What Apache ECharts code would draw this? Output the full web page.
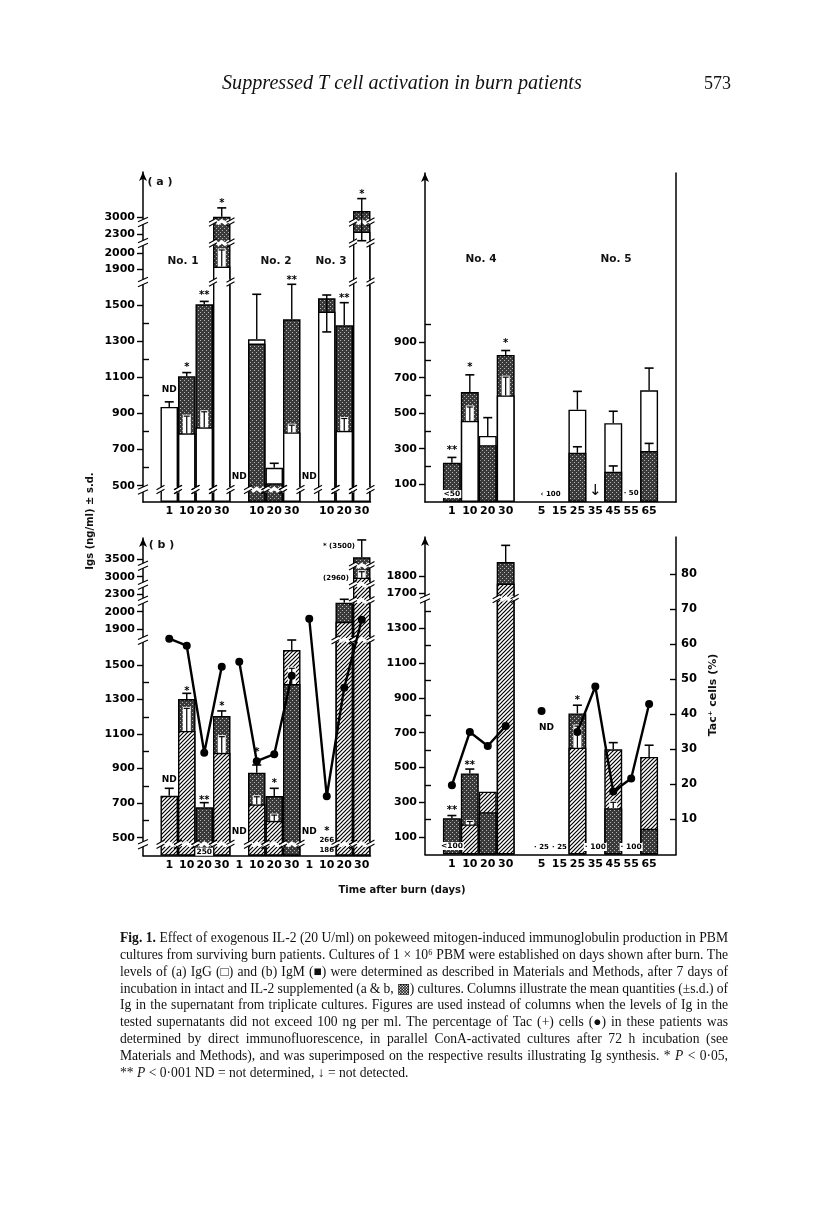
<!DOCTYPE html>
<html>
<head>
<meta charset="utf-8">
<script src="https://cdn.jsdelivr.net/npm/echarts@6.0.0/dist/echarts.min.js"></script>
<style>
html,body{margin:0;padding:0;background:#fff;}
#chart{width:816px;height:1216px;}
</style>
</head>
<body>
<div id="chart"></div>
<script>
// ======================= DATA =======================
// Slot labels (days after burn) for the four panels
const slotLabelsA13 = ['', '1', '10', '20', '30', '', '10', '20', '30', '', '10', '20', '30'];
const slotLabelsB13 = ['', '1', '10', '20', '30', '1', '10', '20', '30', '1', '10', '20', '30'];
const slotLabels45  = ['', '1', '10', '20', '30', '', '5', '15', '25', '35', '45', '55', '65', ''];

// (a) IgG ng/ml, patients No.1-3 (slots: No.1 d1,10,20,30 | No.2 d1,10,20,30 | No.3 d1,10,20,30)
const igG13Intact = [936, 790, 823, 1915, null, 1310, 599, 795, null, 1463, 804, 2395];
const igG13IL2    = [null, 1106, 1508, 3010, null, 1287, 513, 1421, null, 1574, 1388, 3247];
const igG13ErrHi  = [964, 1126, 1540, 3380, null, 1619, 624, 1730, null, 1611, 1526, 3767];
const igG13ErrLo  = [null, null, null, null, null, null, null, null, null, 1351, null, 2194];
const igG13Inner  = [null, 885, 909, 2048, null, null, null, 835, null, null, 872, null];

// (a) IgG ng/ml, patients No.4-5 (slots: No.4 d1,10,20,30 | gap | No.5 d5,15,25,35,45,55,65)
const igG45Intact = [null, 457, 372, 600, null, null, null, 520, null, 444, null, 629];
const igG45IL2    = [221, 619, 320, 828, null, null, null, 277, null, 171, null, 287];
const igG45ErrHi  = [251, 716, 475, 853, null, null, null, 623, null, 511, null, 754];
const igG45Inner  = [null, 535, null, 703, null, null, null, 311, null, 203, null, 330];

// (b) IgM ng/ml, patients No.1-3
const igM13Intact = [743, 1118, null, 992, null, 693, 598, 1668, null, null, 1943, 2960];
const igM13IL2    = [null, 1303, 676, 1205, null, 876, 741, 1390, null, null, 2155, 3550];
const igM13ErrHi  = [786, 1336, 703, 1234, null, 921, 786, 1780, null, null, 2214, 4040];
const igM13Inner  = [null, 1249, null, 1085, null, 737, 631, 1481, null, null, null, 3140];
const tac13       = [62, 60, 29.4, 54, 55.4, 27, 29, 51.4, 67.7, 17, 48, 67.4];
const tac13Groups = [[0, 3], [4, 7], [8, 11]];

// (b) IgM ng/ml, patients No.4-5
const igM45Intact = [null, 173, 361, 1756, null, null, null, 614, null, 605, null, 561];
const igM45IL2    = [209, 466, 243, 1885, null, null, null, 811, null, 266, null, 148];
const igM45ErrHi  = [224, 491, null, 1985, null, null, null, 858, null, 643, null, 628];
const igM45Inner  = [null, 190, null, null, null, null, null, 738, null, 300, null, null];
const tac45       = [19.8, 35, 31, 36.7, null, 41, null, 35, 48, 18, 21.7, 43];
const tac45Groups = [[0, 3], [5, 5], [7, 11]];

// Tick labels
const yTicksA13 = [500, 700, 900, 1100, 1300, 1500, 1900, 2000, 2300, 3000];
const yMinorA13 = [600, 800, 1000, 1200, 1400];
const yTicksA45 = [100, 300, 500, 700, 900];
const yMinorA45 = [200, 400, 600, 800, 1000];
const yTicksB13 = [500, 700, 900, 1100, 1300, 1500, 1900, 2000, 2300, 3000, 3500];
const yMinorB13 = [600, 800, 1000, 1200, 1400];
const yTicksB45 = [100, 300, 500, 700, 900, 1100, 1300, 1700, 1800];
const yMinorB45 = [200, 400, 600, 800, 1000, 1200, 1400];
const tacTicks  = [10, 20, 30, 40, 50, 60, 70, 80];

// Figure annotations: [slot, anchor value (ng/ml), text]
const notesA13 = [[1, 964, 'ND'], [2, 1126, '*'], [3, 1540, '**'], [4, 3380, '*'], [5, 0, 'ND'], [8, 1730, '**'], [9, 0, 'ND'], [11, 1526, '**'], [12, 3767, '*']];
const notesA45 = [[1, 251, '**'], [1, 0, '<50'], [2, 716, '*'], [4, 853, '*'], [6, 0, '‹ 100'], [9, 0, '↓'], [11, 0, '· 50']];
const notesB13 = [[1, 786, 'ND'], [2, 1336, '*'], [3, 703, '**'], [3, 0, '250'], [4, 1234, '*'], [5, 0, 'ND'], [6, 921, '*'], [7, 786, '*'], [9, 0, 'ND'], [10, 0, '*'], [10, 0, '266'], [10, 0, '186'], [12, 4040, '* (3500)'], [12, 2960, '(2960)']];
const notesB45 = [[1, 224, '**'], [1, 0, '<100'], [2, 491, '**'], [6, 0, '· 25'], [7, 0, '· 25'], [7, 730, 'ND'], [8, 858, '*'], [9, 0, '· 100'], [11, 0, '· 100']];

const captionLines = [
  'Fig. 1. Effect of exogenous IL-2 (20 U/ml) on pokeweed mitogen-induced immunoglobulin production in PBM',
  'cultures from surviving burn patients. Cultures of 1 × 10⁶ PBM were established on days shown after burn. The',
  'levels of (a) IgG (□) and (b) IgM (■) were determined as described in Materials and Methods, after 7 days of',
  'incubation in intact and IL-2 supplemented (a & b, ▩) cultures. Columns illustrate the mean quantities (±s.d.) of',
  'Ig in the supernatant from triplicate cultures. Figures are used instead of columns when the levels of Ig in the',
  'tested supernatants did not exceed 100 ng per ml. The percentage of Tac (+) cells (●) in these patients was',
  'determined by direct immunofluorescence, in parallel ConA-activated cultures after 72 h incubation (see',
  'Materials and Methods), and was superimposed on the respective results illustrating Ig synthesis. * P < 0·05,',
  '** P < 0·001 ND = not determined, ↓ = not detected.'
];

// ======================= LAYOUT / SCALES =======================
// Broken-axis scales: [real value, px above baseline]
const scaleA13 = [[0, 0], [500, 16.3], [1500, 197], [1900, 233], [2000, 249], [2300, 268], [3000, 285], [4000, 309]];
const scaleA45 = [[0, 0], [1000, 177.6], [2000, 355.2]];
const scaleB13 = [[0, 0], [500, 18], [1500, 190.7], [1900, 226.4], [2000, 244], [2300, 261.4], [3000, 279], [3500, 296.7], [4500, 332]];
const scaleB45 = [[0, 0], [1450, 252.3], [1700, 261.6], [2200, 345]];
const breaksA13 = [12.5, 220, 259, 280];
const breaksB13 = [11.5, 216, 255, 271, 290];
const breaksB45 = [256];
const noteOffA13 = [[0, -12], [0, -5], [0, -6], [0, -4], [0, -25], [0, -4], [0, -25], [0, -4], [0, -4]];
const noteOffA45 = [[0, -7], [0, -8], [0, -7], [0, -7], [9, -8], [0, -11], [0, -9]];
const noteOffB13 = [[0, -8.5], [0, -2], [0, -2.5], [0, -4], [0, -5], [0, -24], [0, -13], [0, -4.6], [0, -24], [0, -24.4], [0, -15.5], [0, -5.5], [-22.75, 6], [-25.75, 0]];
const noteOffB45 = [[0, -5], [0, -8.5], [0, -3.6], [0, -7.5], [0, -7.5], [-13, 0], [0, -5], [0, -7.5], [0, -7.5]];

const SANS = '"DejaVu Sans", sans-serif';
const SERIF = '"Liberation Serif", "Times New Roman", serif';

function disp(map, v) {
  if (v == null) return null;
  for (let k = 1; k < map.length; k++) {
    const r0 = map[k - 1][0], d0 = map[k - 1][1], r1 = map[k][0], d1 = map[k][1];
    if (v <= r1 || k === map.length - 1) return d0 + (v - r0) * (d1 - d0) / (r1 - r0);
  }
}

function makeHatch() {
  const c = document.createElement('canvas'); c.width = 4; c.height = 4;
  const g = c.getContext('2d');
  g.fillStyle = '#fff'; g.fillRect(0, 0, 4, 4);
  g.strokeStyle = '#000'; g.lineWidth = 1.2; g.beginPath();
  g.moveTo(-1, 5); g.lineTo(5, -1);
  g.moveTo(-1, 1); g.lineTo(1, -1);
  g.moveTo(3, 5); g.lineTo(5, 3);
  g.stroke();
  return c;
}
function makeStipple() {
  const c = document.createElement('canvas'); c.width = 4; c.height = 4;
  const g = c.getContext('2d');
  g.fillStyle = '#3a3a3a'; g.fillRect(0, 0, 4, 4);
  g.fillStyle = '#b4b4b4'; g.fillRect(0, 0, 1, 1); g.fillRect(2, 2, 1, 1);
  return c;
}
const HATCH = {image: makeHatch(), repeat: 'repeat'};
const STIPPLE = {image: makeStipple(), repeat: 'repeat'};

function barStyle(kind, panelType) {
  let color = '#fff';
  if (kind === 'il2') color = STIPPLE;
  else if (panelType === 'B') color = HATCH;
  return {color: color, borderColor: '#000', borderWidth: 1.4};
}

const panels = [
  {grid: [143, 172, 227.5, 330], labels: slotLabelsA13, scale: scaleA13, ticks: yTicksA13, minor: yMinorA13, breaks: breaksA13, type: 'A',
   intact: igG13Intact, il2: igG13IL2, errHi: igG13ErrHi, errLo: igG13ErrLo, inner: igG13Inner, notes: notesA13, noteOff: noteOffA13, right: null},
  {grid: [425, 173, 251, 329], labels: slotLabels45, scale: scaleA45, ticks: yTicksA45, minor: yMinorA45, breaks: [], type: 'A',
   intact: igG45Intact, il2: igG45IL2, errHi: igG45ErrHi, errLo: null, inner: igG45Inner, notes: notesA45, noteOff: noteOffA45, right: 'border'},
  {grid: [143, 538, 227.5, 317.7], labels: slotLabelsB13, scale: scaleB13, ticks: yTicksB13, minor: yMinorB13, breaks: breaksB13, type: 'B',
   intact: igM13Intact, il2: igM13IL2, errHi: igM13ErrHi, errLo: null, inner: igM13Inner, notes: notesB13, noteOff: noteOffB13, right: 'hidden', tac: tac13, tacGroups: tac13Groups},
  {grid: [425, 537, 251, 317.5], labels: slotLabels45, scale: scaleB45, ticks: yTicksB45, minor: yMinorB45, breaks: breaksB45, type: 'B',
   intact: igM45Intact, il2: igM45IL2, errHi: igM45ErrHi, errLo: null, inner: igM45Inner, notes: notesB45, noteOff: noteOffB45, right: 'tac', tac: tac45, tacGroups: tac45Groups}
];

const option = {
  animation: false,
  backgroundColor: '#fff',
  grid: [], xAxis: [], yAxis: [], series: [], graphic: []
};

const axisFont = {color: '#000', fontFamily: SANS, fontWeight: 'bold', fontSize: 11};

panels.forEach(function (p, pi) {
  option.grid.push({left: p.grid[0], top: p.grid[1], width: p.grid[2], height: p.grid[3], containLabel: false, outerBoundsMode: 'none'});
  option.xAxis.push({
    type: 'category', gridIndex: pi, data: p.labels, boundaryGap: true,
    axisLine: {onZero: false, lineStyle: {color: '#000', width: 1.5}},
    axisTick: {show: false}, splitLine: {show: false},
    axisLabel: Object.assign({interval: 0, margin: 4}, axisFont)
  });
  const tickD = p.ticks.map(function (v) { return disp(p.scale, v); });
  p.yMain = option.yAxis.length;
  option.yAxis.push({
    type: 'value', gridIndex: pi, position: 'left', min: 0, max: p.grid[3], splitLine: {show: false},
    axisLine: {show: true, lineStyle: {color: '#000', width: 1.5}, symbol: ['none', 'arrow'], symbolSize: [6, 9]},
    axisTick: {show: true, inside: false, length: 6, customValues: tickD, lineStyle: {color: '#000', width: 1.4}},
    axisLabel: Object.assign({show: true, customValues: tickD, margin: 8, formatter: function (v) {
      for (let k = 0; k < tickD.length; k++) if (Math.abs(tickD[k] - v) < 0.05) return String(p.ticks[k]);
      return '';
    }}, axisFont)
  });
  option.yAxis.push({
    type: 'value', gridIndex: pi, position: 'left', min: 0, max: p.grid[3], splitLine: {show: false},
    axisLine: {show: false}, axisLabel: {show: false},
    axisTick: {show: true, inside: true, length: 6, customValues: p.minor.map(function (v) { return disp(p.scale, v); }), lineStyle: {color: '#000', width: 1.4}}
  });
  if (p.right === 'border') {
    option.yAxis.push({type: 'value', gridIndex: pi, position: 'right', min: 0, max: 1, splitLine: {show: false},
      axisLine: {show: true, lineStyle: {color: '#000', width: 1.5}}, axisTick: {show: false}, axisLabel: {show: false}});
  } else if (p.right === 'hidden' || p.right === 'tac') {
    p.yTac = option.yAxis.length;
    const show = p.right === 'tac';
    option.yAxis.push({type: 'value', gridIndex: pi, position: 'right', min: 0, max: p.grid[3] / 3.5, show: show, splitLine: {show: false},
      axisLine: {show: show, lineStyle: {color: '#000', width: 1.5}},
      axisTick: {show: show, inside: true, length: 6, customValues: tacTicks, lineStyle: {color: '#000', width: 1.4}},
      axisLabel: Object.assign({show: show, customValues: tacTicks, margin: 5}, axisFont, {fontSize: 11.5})});
  }

  // ---- bars: taller column behind, shorter one in front ----
  const nS = p.labels.length;
  const sets = {intactBack: [], il2Back: [], intactFront: [], il2Front: []};
  Object.keys(sets).forEach(function (k) { for (let i = 0; i < nS; i++) sets[k].push('-'); });
  for (let i = 0; i < 12; i++) {
    const a = p.intact[i], b = p.il2[i];
    if (a != null && b != null) {
      if (a >= b) { sets.intactBack[i + 1] = disp(p.scale, a); sets.il2Front[i + 1] = disp(p.scale, b); }
      else { sets.il2Back[i + 1] = disp(p.scale, b); sets.intactFront[i + 1] = disp(p.scale, a); }
    } else if (a != null) sets.intactBack[i + 1] = disp(p.scale, a);
    else if (b != null) sets.il2Back[i + 1] = disp(p.scale, b);
  }
  ['intactBack', 'il2Back', 'intactFront', 'il2Front'].forEach(function (key) {
    option.series.push({
      type: 'bar', name: key, xAxisIndex: pi, yAxisIndex: p.yMain, data: sets[key],
      barGap: '-100%', barCategoryGap: '0%', z: 2, silent: true,
      itemStyle: barStyle(key.indexOf('intact') === 0 ? 'intact' : 'il2', p.type)
    });
  });

  // ---- axis breaks (zigzags) ----
  const brk = [];
  p.breaks.forEach(function (d) {
    brk.push({s: 0, d: d, axis: true});
    for (let i = 0; i < 12; i++) {
      const vals = [p.intact[i], p.il2[i]].filter(function (v) { return v != null; });
      if (!vals.length) continue;
      if (disp(p.scale, Math.max.apply(null, vals)) > d + 3) brk.push({s: i + 1, d: d, axis: false});
    }
  });
  if (brk.length) {
    option.series.push({
      type: 'custom', xAxisIndex: pi, yAxisIndex: p.yMain, z: 3, silent: true, clip: false,
      data: brk.map(function (b) { return [b.s, b.d]; }), encode: {x: 0, y: 1},
      renderItem: function (params, api) {
        const it = brk[params.dataIndex];
        const c = api.coord([it.s, it.d]);
        const cy = c[1];
        const ls = {stroke: '#000', lineWidth: 1.1};
        if (it.axis) {
          const x = params.coordSys.x;
          return {type: 'group', children: [
            {type: 'rect', shape: {x: x - 2.5, y: cy - 2.5, width: 5, height: 5}, style: {fill: '#fff'}},
            {type: 'line', shape: {x1: x - 5, y1: cy - 0.3, x2: x + 5, y2: cy - 4.7}, style: ls},
            {type: 'line', shape: {x1: x - 5, y1: cy + 4.7, x2: x + 5, y2: cy + 0.3}, style: ls}
          ]};
        }
        const hw = api.size([1, 0])[0] / 2;
        const x0 = c[0] - hw, x1 = c[0] + hw;
        const n = Math.max(2, Math.round((x1 - x0) / 3));
        const top = [], bot = [];
        for (let k = 0; k <= n; k++) {
          const x = x0 - 1 + (x1 - x0 + 2) * k / n;
          const w = (k % 2 ? -1.3 : 1.3);
          top.push([x, cy - 2 + w]);
          bot.push([x, cy + 2 + w]);
        }
        const pts = top.concat(bot.reverse());
        const ch = [{type: 'polygon', shape: {points: pts}, style: {fill: '#fff'}}];
        [x0, x1].forEach(function (xe) {
          ch.push({type: 'line', shape: {x1: xe - 4, y1: cy + 0.2, x2: xe + 4, y2: cy - 4.2}, style: ls});
          ch.push({type: 'line', shape: {x1: xe - 4, y1: cy + 4.2, x2: xe + 4, y2: cy - 0.2}, style: ls});
        });
        return {type: 'group', children: ch};
      }
    });
  }

  // ---- error bars ----
  const errs = [];
  for (let i = 0; i < 12; i++) {
    const a = p.intact[i], b = p.il2[i];
    const vals = [a, b].filter(function (v) { return v != null; });
    if (!vals.length) continue;
    const top = Math.max.apply(null, vals), low = Math.min.apply(null, vals);
    const lo = p.errLo && p.errLo[i] != null ? p.errLo[i] : null;
    if (p.errHi[i] != null) errs.push({s: i + 1, lo: lo != null ? lo : top, hi: p.errHi[i], capLo: lo != null, white: false});
    if (p.inner[i] != null && vals.length === 2) {
      const white = !(p.type === 'A' && a > b);
      errs.push({s: i + 1, lo: low, hi: p.inner[i], capLo: false, white: white});
    }
  }
  option.series.push({
    type: 'custom', xAxisIndex: pi, yAxisIndex: p.yMain, z: 4, silent: true, clip: false,
    data: errs.map(function (e) { return [e.s, disp(p.scale, e.lo), disp(p.scale, e.hi)]; }), encode: {x: 0, y: [1, 2]},
    renderItem: function (params, api) {
      const it = errs[params.dataIndex];
      const x = api.coord([it.s, 0])[0];
      const yLo = api.coord([it.s, api.value(1)])[1];
      const yHi = api.coord([it.s, api.value(2)])[1];
      const ch = [];
      if (!it.white) {
        ch.push({type: 'line', shape: {x1: x, y1: yLo, x2: x, y2: yHi}, style: {stroke: '#000', lineWidth: 1.4}});
        ch.push({type: 'line', shape: {x1: x - 4.5, y1: yHi, x2: x + 4.5, y2: yHi}, style: {stroke: '#000', lineWidth: 1.6}});
        if (it.capLo) ch.push({type: 'line', shape: {x1: x - 4.5, y1: yLo, x2: x + 4.5, y2: yLo}, style: {stroke: '#000', lineWidth: 1.6}});
      } else {
        ch.push({type: 'rect', shape: {x: x - 4, y: yHi - 1.5, width: 8, height: Math.max(2, yLo - yHi + 1.5)}, style: {fill: '#fff'}});
        ch.push({type: 'line', shape: {x1: x, y1: yLo, x2: x, y2: yHi}, style: {stroke: '#000', lineWidth: 1.2}});
        ch.push({type: 'line', shape: {x1: x - 3, y1: yHi, x2: x + 3, y2: yHi}, style: {stroke: '#000', lineWidth: 1.2}});
      }
      return {type: 'group', children: ch};
    }
  });

  // ---- Tac+ cells line ----
  if (p.tac) {
    p.tacGroups.forEach(function (g) {
      const pts = [];
      for (let i = g[0]; i <= g[1]; i++) if (p.tac[i] != null) pts.push([i + 1, p.tac[i]]);
      option.series.push({
        type: 'line', xAxisIndex: pi, yAxisIndex: p.yTac, data: pts, z: 5, silent: true,
        symbol: 'circle', symbolSize: 8, showSymbol: true,
        lineStyle: {color: '#000', width: 2.4}, itemStyle: {color: '#000'}
      });
    });
  }

  // ---- annotations ----
  const notes = p.notes, offs = p.noteOff;
  option.series.push({
    type: 'custom', xAxisIndex: pi, yAxisIndex: p.yMain, z: 6, silent: true, clip: false,
    data: notes.map(function (n) { return [n[0], disp(p.scale, n[1])]; }), encode: {x: 0, y: 1},
    renderItem: function (params, api) {
      const n = notes[params.dataIndex], o = offs[params.dataIndex];
      const c = api.coord([n[0], api.value(1)]);
      const t = n[2];
      let font = 'bold 7px ' + SANS, box = false;
      if (t === 'ND') font = 'bold 9px ' + SANS;
      else if (/^\*+$/.test(t)) font = 'bold 10px ' + SANS;
      else if (t === '↓') font = '15px ' + SANS;
      if (t === '<50' || t === '250' || t === '<100' || t === '· 100') { box = true; font = 'bold 7.5px ' + SANS; }
      const st = {text: t, font: font, fill: '#000', align: 'center', verticalAlign: 'middle', textAlign: 'center', textVerticalAlign: 'middle'};
      if (box) { st.backgroundColor = '#fff'; st.padding = [0, 1, 0, 1]; }
      return {type: 'text', x: c[0] + o[0], y: c[1] + o[1], style: st};
    }
  });
});

// ======================= TEXTS =======================
function gText(text, x, y, font, align, extra) {
  const el = {type: 'text', x: x, y: y, silent: true, z: 10,
    style: {text: text, font: font, fill: '#111', align: align || 'center', verticalAlign: 'middle', textAlign: align || 'center', textVerticalAlign: 'middle'}};
  if (extra) Object.assign(el, extra);
  return el;
}
const mctx = document.createElement('canvas').getContext('2d');
function measure(t, font) { mctx.font = font; return mctx.measureText(t).width; }

// header
const headText = 'Suppressed T cell activation in burn patients';
const headSize = 18 * 360 / measure(headText, 'italic 18px ' + SERIF);
option.graphic.push(gText(headText, 222, 84, 'italic ' + headSize.toFixed(2) + 'px ' + SERIF, 'left'));
option.graphic.push(gText('573', 731, 84, '18px ' + SERIF, 'right'));

// panel labels
option.graphic.push(gText('( a )', 160, 182, 'bold 11px ' + SANS));
option.graphic.push(gText('( b )', 161.5, 545, 'bold 11px ' + SANS));
[['No. 1', 183, 261], ['No. 2', 276, 261], ['No. 3', 331, 261], ['No. 4', 481, 259], ['No. 5', 616, 259]].forEach(function (n) {
  option.graphic.push(gText(n[0], n[1], n[2], 'bold 10.5px ' + SANS));
});
option.graphic.push(gText('Igs (ng/ml) ± s.d.', 90, 521, 'bold 10px ' + SANS, 'center', {rotation: Math.PI / 2}));
option.graphic.push(gText('Tac⁺ cells (%)', 713, 695, 'bold 11px ' + SANS, 'center', {rotation: Math.PI / 2}));
option.graphic.push(gText('Time after burn (days)', 402, 890, 'bold 10px ' + SANS));

// caption (justified)
const capLeft = 120, capRight = 728, capTop = 938.3, capStep = 16.9;
captionLines.forEach(function (line, li) {
  const words = line.split(' ');
  const last = li === captionLines.length - 1;
  let size = 13.6;
  function fontOf(w, wi, sz) {
    if (li === 0 && wi < 2) return 'bold ' + sz + 'px ' + SERIF;
    if (w === 'P') return 'italic ' + sz + 'px ' + SERIF;
    return sz + 'px ' + SERIF;
  }
  let widths = words.map(function (w, wi) { return measure(w, fontOf(w, wi, size)); });
  let total = widths.reduce(function (a, b) { return a + b; }, 0);
  const W = capRight - capLeft;
  if (!last && total + 2.2 * (words.length - 1) > W) {
    size = size * (W - 2.2 * (words.length - 1)) / total;
    widths = words.map(function (w, wi) { return measure(w, fontOf(w, wi, size)); });
    total = widths.reduce(function (a, b) { return a + b; }, 0);
  }
  const gap = last ? measure(' ', size + 'px ' + SERIF) : (W - total) / (words.length - 1);
  let x = capLeft;
  words.forEach(function (w, wi) {
    option.graphic.push(gText(w, x, capTop + li * capStep, fontOf(w, wi, size), 'left'));
    x += widths[wi] + gap;
  });
});

const chart = echarts.init(document.getElementById('chart'), null, {renderer: 'canvas', width: 816, height: 1216});
chart.setOption(option);
</script>
</body>
</html>
